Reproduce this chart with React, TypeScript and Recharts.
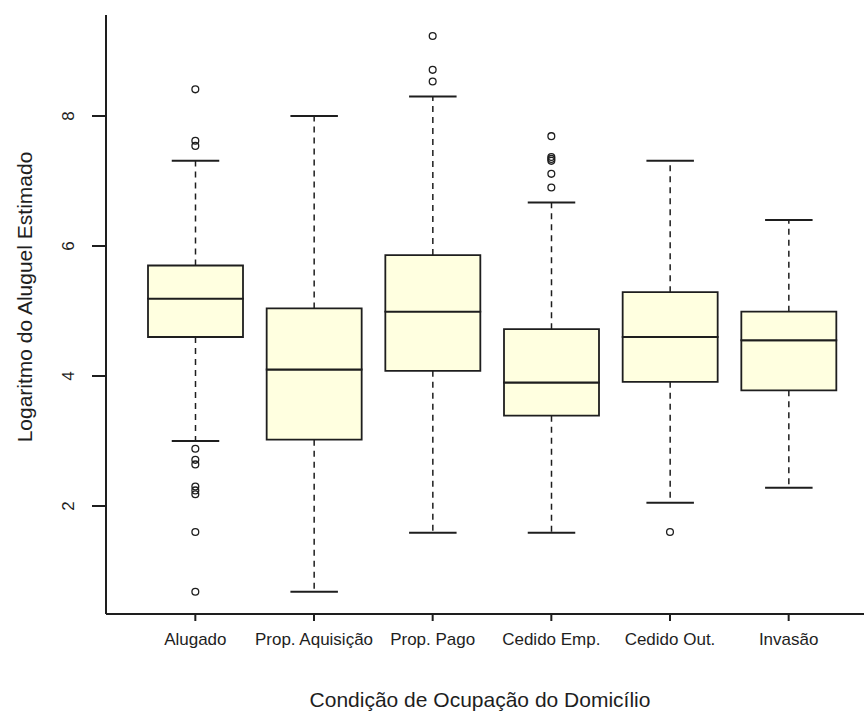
import { ComposedChart, Bar, Scatter, XAxis, YAxis } from "recharts";

const categories = ["Alugado", "Prop. Aquisição", "Prop. Pago", "Cedido Emp.", "Cedido Out.", "Invasão"];
const whiskerLow = [3.0, 0.68, 1.59, 1.59, 2.05, 2.28];
const quartile1 = [4.6, 3.02, 4.08, 3.39, 3.91, 3.78];
const medians = [5.19, 4.1, 4.99, 3.9, 4.6, 4.55];
const quartile3 = [5.7, 5.04, 5.86, 4.72, 5.29, 4.99];
const whiskerHigh = [7.31, 8.0, 8.3, 6.67, 7.31, 6.4];
const outliers = [
  [8.41, 7.62, 7.54, 2.88, 2.71, 2.64, 2.3, 2.24, 2.18, 1.6, 0.68],
  [],
  [9.23, 8.71, 8.53],
  [7.69, 7.37, 7.34, 7.31, 7.11, 6.9],
  [1.6],
  [],
];
const yTicks = [2, 4, 6, 8];

const rows = categories.map((name, i) => ({
  name,
  base: whiskerLow[i],
  lowWhisker: quartile1[i] - whiskerLow[i],
  lowerBox: medians[i] - quartile1[i],
  upperBox: quartile3[i] - medians[i],
  highWhisker: whiskerHigh[i] - quartile3[i],
}));

const points = categories.flatMap((name, i) => outliers[i].map((value) => ({ name, value })));

const INK = "#1e1e1e";
const BOX_FILL = "#ffffe0";
const FONT = "'Liberation Sans', Arial, sans-serif";

function LowWhisker(props: any) {
  const { x, y, width, height } = props;
  const cx = x + width / 2;
  const cap = width / 4;
  return (
    <g>
      <line x1={cx} y1={y} x2={cx} y2={y + height} stroke={INK} strokeWidth={1.5} strokeDasharray="6 5" />
      <line x1={cx - cap} y1={y + height} x2={cx + cap} y2={y + height} stroke={INK} strokeWidth={2} />
    </g>
  );
}

function HighWhisker(props: any) {
  const { x, y, width, height } = props;
  const cx = x + width / 2;
  const cap = width / 4;
  return (
    <g>
      <line x1={cx} y1={y + height} x2={cx} y2={y} stroke={INK} strokeWidth={1.5} strokeDasharray="6 5" />
      <line x1={cx - cap} y1={y} x2={cx + cap} y2={y} stroke={INK} strokeWidth={2} />
    </g>
  );
}

function Outlier(props: any) {
  return <circle cx={props.cx} cy={props.cy} r={3.4} fill="none" stroke={INK} strokeWidth={1.3} />;
}

function YTick(props: any) {
  const { x, y, payload } = props;
  const bx = x - 16;
  return (
    <text x={bx} y={y} transform={`rotate(-90, ${bx}, ${y})`} textAnchor="middle" fontSize={17} fontFamily={FONT} fill={INK}>
      {payload.value}
    </text>
  );
}

function XTick(props: any) {
  const { x, y, payload } = props;
  return (
    <text x={x} y={y + 22} textAnchor="middle" fontSize={17} fontFamily={FONT} fill={INK}>
      {payload.value}
    </text>
  );
}

const xTitle = () => (
  <text x={480} y={707} textAnchor="middle" fontSize={21} fontFamily={FONT} fill={INK}>
    Condição de Ocupação do Domicílio
  </text>
);

const yTitle = () => (
  <text x={32} y={297} transform="rotate(-90, 32, 297)" textAnchor="middle" fontSize={21} fontFamily={FONT} fill={INK}>
    Logaritmo do Aluguel Estimado
  </text>
);

export default function App() {
  return (
    <div style={{ position: "absolute", left: 0, top: 0, width: 864, height: 711, overflow: "hidden", background: "#fff" }}>
      <ComposedChart width={900} height={711} data={rows} margin={{ top: 15, right: 24, bottom: 0, left: 0 }}>
        <XAxis
          xAxisId="top"
          orientation="top"
          height={0}
          tick={false}
          tickLine={false}
          axisLine={{ stroke: INK, strokeWidth: 2 }}
        />
        <XAxis
          dataKey="name"
          allowDuplicatedCategory={false}
          padding={{ left: 30, right: 28 }}
          height={97}
          interval={0}
          tickSize={7}
          tickMargin={2}
          tickLine={{ stroke: INK, strokeWidth: 2 }}
          axisLine={{ stroke: INK, strokeWidth: 2 }}
          tick={XTick}
          label={xTitle}
        />
        <YAxis
          type="number"
          domain={[0.338, 9.554]}
          allowDataOverflow
          ticks={yTicks}
          width={106}
          tickSize={14}
          tickMargin={2}
          tickLine={{ stroke: INK, strokeWidth: 2 }}
          axisLine={{ stroke: INK, strokeWidth: 2 }}
          tick={YTick}
          label={yTitle}
        />
        <Bar dataKey="base" stackId="box" fill="transparent" barSize={95} isAnimationActive={false} />
        <Bar dataKey="lowWhisker" stackId="box" shape={LowWhisker} barSize={95} isAnimationActive={false} />
        <Bar dataKey="lowerBox" stackId="box" fill={BOX_FILL} stroke={INK} strokeWidth={1.8} barSize={95} isAnimationActive={false} />
        <Bar dataKey="upperBox" stackId="box" fill={BOX_FILL} stroke={INK} strokeWidth={1.8} barSize={95} isAnimationActive={false} />
        <Bar dataKey="highWhisker" stackId="box" shape={HighWhisker} barSize={95} isAnimationActive={false} />
        <Scatter data={points} dataKey="value" shape={Outlier} isAnimationActive={false} />
      </ComposedChart>
    </div>
  );
}
